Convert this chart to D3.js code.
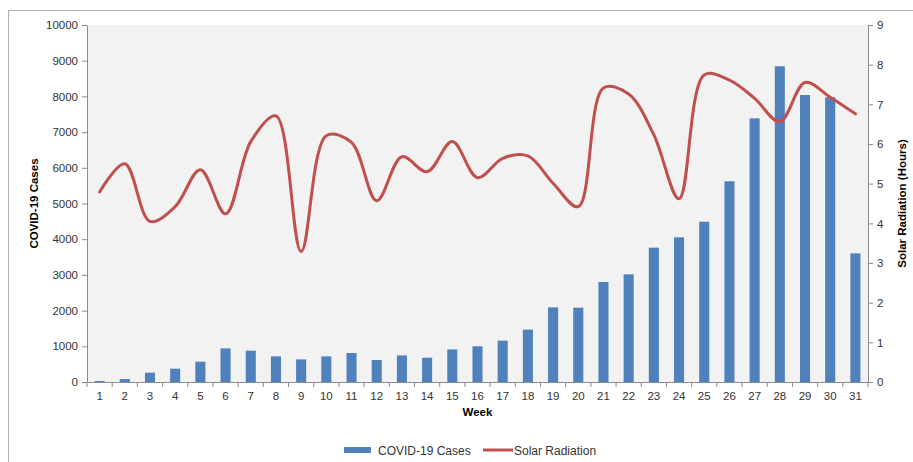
<!DOCTYPE html>
<html>
<head>
<meta charset="utf-8">
<script src="https://cdn.jsdelivr.net/npm/d3@7"></script>
<style>
  html, body { margin: 0; padding: 0; background: #fff; }
  svg { display: block; font-family: "Liberation Sans", Arial, sans-serif; }
</style>
</head>
<body>
<div id="chart"></div>
<script>
'use strict';

// Weekly values
const weeks = d3.range(1, 32);
const covidCases = [28, 84, 262, 373, 569, 941, 877, 717, 633, 717, 812, 616, 745, 680, 913,
  1000, 1158, 1466, 2090, 2082, 2801, 3016, 3763, 4053, 4490, 5622, 7386, 8843, 8039, 7975, 3605];
const solarHours = [4.79, 5.50, 4.05, 4.42, 5.35, 4.24, 6.06, 6.71, 3.29, 6.21, 6.04, 4.57, 5.68, 5.30, 6.06,
  5.15, 5.64, 5.70, 5.01, 4.42, 7.41, 7.26, 6.23, 4.62, 7.74, 7.61, 7.15, 6.56, 7.55, 7.18, 6.76];
const leftTicks = d3.range(0, 10001, 1000);
const rightTicks = d3.range(0, 10, 1);

const width = 913;
const height = 462;
const plot = { left: 87, right: 868, top: 25, bottom: 382 };

const BAR_COLOR = '#4f81bd';
const LINE_COLOR = '#c0504d';
const AXIS_COLOR = '#8c8c8c';
const TEXT_COLOR = '#333333';

const svg = d3.select('#chart').append('svg')
  .attr('width', width)
  .attr('height', height);

// outer chart frame (runs off the right/bottom edge like the reference)
svg.append('rect')
  .attr('x', 8.5).attr('y', 10.5)
  .attr('width', 1000).attr('height', 1000)
  .attr('fill', 'none')
  .attr('stroke', '#b0b0b0');

svg.append('rect')
  .attr('x', plot.left).attr('y', plot.top)
  .attr('width', plot.right - plot.left)
  .attr('height', plot.bottom - plot.top)
  .attr('fill', '#f2f2f2');

const x = d3.scaleBand().domain(weeks).range([plot.left, plot.right]);
const yLeft = d3.scaleLinear().domain([0, 10000]).range([plot.bottom, plot.top]);
const yRight = d3.scaleLinear().domain([0, 9]).range([plot.bottom, plot.top]);

const barW = x.bandwidth() * 0.4;

svg.append('g')
  .selectAll('rect')
  .data(covidCases)
  .join('rect')
    .attr('x', (d, i) => x(weeks[i]) + (x.bandwidth() - barW) / 2)
    .attr('y', d => yLeft(d))
    .attr('width', barW)
    .attr('height', d => plot.bottom - yLeft(d))
    .attr('fill', BAR_COLOR);

const line = d3.line()
  .x((d, i) => x(weeks[i]) + x.bandwidth() / 2)
  .y(d => yRight(d))
  .curve(d3.curveCatmullRom.alpha(0.5));

svg.append('path')
  .datum(solarHours)
  .attr('d', line)
  .attr('fill', 'none')
  .attr('stroke', LINE_COLOR)
  .attr('stroke-width', 3)
  .attr('stroke-linejoin', 'round')
  .attr('stroke-linecap', 'round');

function styleAxis(g) {
  g.selectAll('path, line').attr('stroke', AXIS_COLOR);
  g.selectAll('text')
    .attr('fill', TEXT_COLOR)
    .attr('font-size', 11.5)
    .attr('font-family', '"Liberation Sans", Arial, sans-serif');
}

svg.append('g')
  .attr('transform', `translate(${plot.left},0)`)
  .call(d3.axisLeft(yLeft).tickValues(leftTicks).tickFormat(d3.format('d'))
    .tickSize(5).tickSizeOuter(0).tickPadding(4))
  .call(styleAxis);

svg.append('g')
  .attr('transform', `translate(${plot.right},0)`)
  .call(d3.axisRight(yRight).tickValues(rightTicks).tickFormat(d3.format('d'))
    .tickSize(5).tickSizeOuter(0).tickPadding(4))
  .call(styleAxis);

// x axis: labels centred on bands, tick marks on band boundaries
const xAxis = svg.append('g')
  .attr('transform', `translate(0,${plot.bottom})`)
  .call(d3.axisBottom(x).tickSize(0).tickSizeOuter(0).tickPadding(10))
  .call(styleAxis);

xAxis.selectAll('.boundary')
  .data(weeks.concat([32]))
  .join('line')
    .attr('class', 'boundary')
    .attr('x1', d => d <= 31 ? x(d) : plot.right)
    .attr('x2', d => d <= 31 ? x(d) : plot.right)
    .attr('y1', 0).attr('y2', 5)
    .attr('stroke', AXIS_COLOR);

svg.append('text')
  .attr('transform', `translate(38,${(plot.top + plot.bottom) / 2}) rotate(-90)`)
  .attr('text-anchor', 'middle')
  .attr('font-size', 11.5)
  .attr('font-weight', 'bold')
  .attr('fill', '#000')
  .text('COVID-19 Cases');

svg.append('text')
  .attr('transform', `translate(906,${(plot.top + plot.bottom) / 2}) rotate(-90)`)
  .attr('text-anchor', 'middle')
  .attr('font-size', 11.5)
  .attr('font-weight', 'bold')
  .attr('fill', '#000')
  .text('Solar Radiation (Hours)');

svg.append('text')
  .attr('x', (plot.left + plot.right) / 2)
  .attr('y', 416)
  .attr('text-anchor', 'middle')
  .attr('font-size', 11.5)
  .attr('font-weight', 'bold')
  .attr('fill', '#000')
  .text('Week');

// legend
const legend = svg.append('g').attr('transform', 'translate(0,450)');
legend.append('rect')
  .attr('x', 344).attr('y', -3)
  .attr('width', 27).attr('height', 6)
  .attr('fill', BAR_COLOR);
legend.append('text')
  .attr('x', 378).attr('y', 4.5)
  .attr('font-size', 12)
  .attr('fill', TEXT_COLOR)
  .text('COVID-19 Cases');
legend.append('line')
  .attr('x1', 483).attr('x2', 513)
  .attr('y1', 0).attr('y2', 0)
  .attr('stroke', LINE_COLOR)
  .attr('stroke-width', 3);
legend.append('text')
  .attr('x', 514).attr('y', 4.5)
  .attr('font-size', 12)
  .attr('fill', TEXT_COLOR)
  .text('Solar Radiation');
</script>
</body>
</html>
